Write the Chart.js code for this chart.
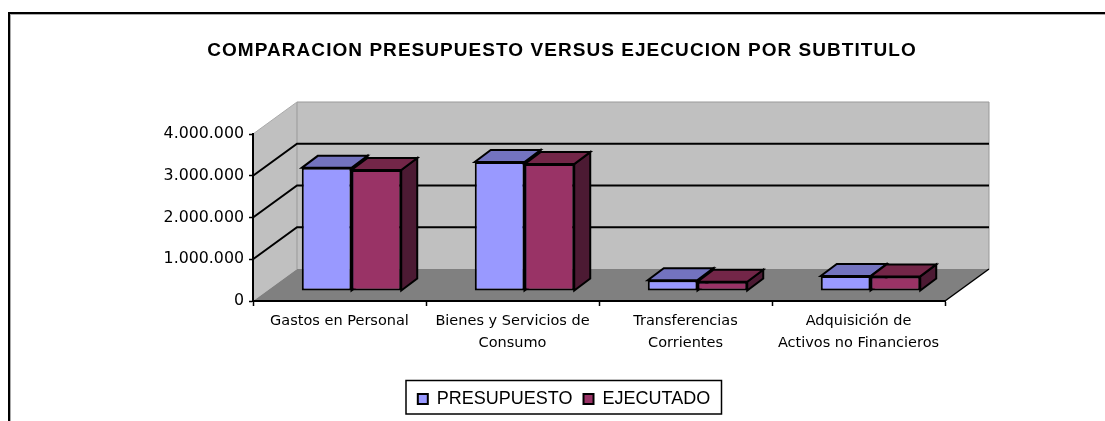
<!DOCTYPE html>
<html>
<head>
<meta charset="utf-8">
<script src="https://cdn.jsdelivr.net/npm/chart.js@4/dist/chart.umd.min.js"></script>
<style>
html,body{margin:0;padding:0;background:#fff;overflow:hidden}
#wrap{position:relative;width:1105px;height:421px}
#frame{position:absolute;left:8px;top:12px;width:1200px;height:500px;border-top:2px solid #000;border-left:2px solid #000;box-shadow:inset 1px 1px 0 #aaa}
canvas{position:absolute;left:0;top:0}
</style>
</head>
<body>
<div id="wrap"><div id="frame"></div><canvas id="c" width="1105" height="421"></canvas></div>
<script>
const categories = [['Gastos en Personal'],['Bienes y Servicios de','Consumo'],['Transferencias','Corrientes'],['Adquisición de','Activos no Financieros']]
const presupuesto = [2950000,3090000,260000,360000]
const ejecutado = [2900000,3040000,220000,350000]
const tickValues = [1000000,2000000,3000000]

// how far the back wall and the bars sit behind the front plane
const wall = {dx:44,dy:-32}
const barShift = {dx:12,dy:-10}
const barDepth = {dx:16,dy:-12}
const topColors = ['#7373bf','#732648']
const sideColors = ['#4d4d80','#4c1a33']

function poly(ctx,pts,fill,stroke,lw){
  ctx.beginPath()
  pts.forEach((p,i)=>i?ctx.lineTo(p[0],p[1]):ctx.moveTo(p[0],p[1]))
  ctx.closePath()
  if(fill){ctx.fillStyle=fill;ctx.fill()}
  if(stroke){ctx.strokeStyle=stroke;ctx.lineWidth=lw||1;ctx.stroke()}
}

const box3d = {
  id:'box3d',
  afterLayout(chart){
    // title and legend are centred on the picture, not on the plot
    const t=chart.titleBlock;t.left=0;t.right=1124
    if(!t._spaced){
      const draw=t.draw
      t.draw=function(){this.ctx.letterSpacing='1.05px';draw.apply(this,arguments);this.ctx.letterSpacing='0px'}
      t._spaced=true
    }
    const l=chart.legend;l.left=0;l.right=1128;const h=l.bottom-l.top;l.top=379;l.bottom=379+h
  },
  beforeDatasetsDraw(chart){
    const ctx=chart.ctx,a=chart.chartArea,y=chart.scales.y
    const L=a.left,R=a.right,T=y.getPixelForValue(4000000),B=y.getPixelForValue(0)
    const d=wall
    ctx.save()
    poly(ctx,[[L+d.dx,T+d.dy],[R+d.dx,T+d.dy],[R+d.dx,B+d.dy],[L+d.dx,B+d.dy]],'#c0c0c0')
    poly(ctx,[[L,B],[L+d.dx,B+d.dy],[L+d.dx,T+d.dy],[L,T]],'#c0c0c0')
    poly(ctx,[[L,B],[R,B],[R+d.dx,B+d.dy],[L+d.dx,B+d.dy]],'#808080')
    ctx.strokeStyle='#999';ctx.lineWidth=1
    ctx.beginPath();ctx.moveTo(L+d.dx,B+d.dy);ctx.lineTo(L+d.dx,T+d.dy);ctx.lineTo(R+d.dx,T+d.dy);ctx.lineTo(R+d.dx,B+d.dy);ctx.stroke()
    ctx.strokeStyle='#aaa'
    ctx.beginPath();ctx.moveTo(L,T);ctx.lineTo(L+d.dx,T+d.dy);ctx.stroke()
    ctx.strokeStyle='#000';ctx.lineWidth=2
    tickValues.forEach(v=>{
      const p=y.getPixelForValue(v)
      ctx.beginPath();ctx.moveTo(L,p);ctx.lineTo(L+d.dx,p+d.dy);ctx.lineTo(R+d.dx,p+d.dy);ctx.stroke()
    })
    ctx.lineWidth=1.5
    ctx.beginPath();ctx.moveTo(R,B);ctx.lineTo(R+d.dx,B+d.dy);ctx.stroke()
    // tops and sides of the bars, the fronts come from the library
    chart.data.datasets.forEach((ds,di)=>{
      chart.getDatasetMeta(di).data.forEach(bar=>{
        const p=bar.getProps(['x','y','base','width'],true)
        const x0=p.x-p.width/2+barShift.dx,x1=p.x+p.width/2+barShift.dx,ty=p.y+barShift.dy,by=p.base+barShift.dy
        const q=barDepth
        poly(ctx,[[x1,ty],[x1+q.dx,ty+q.dy],[x1+q.dx,by+q.dy],[x1,by]],sideColors[di],'#000',2)
        poly(ctx,[[x0,ty],[x1,ty],[x1+q.dx,ty+q.dy],[x0+q.dx,ty+q.dy]],topColors[di],'#000',2)
      })
    })
    ctx.restore()
    ctx.save()
    ctx.translate(barShift.dx,barShift.dy)
  },
  afterDatasetsDraw(chart){chart.ctx.restore()},
  afterDraw(chart){
    const ctx=chart.ctx
    ctx.save();ctx.strokeStyle='#000';ctx.lineWidth=1.5
    ctx.strokeRect(406,380.5,315.5,33.5)
    ctx.restore()
  }
}

new Chart(document.getElementById('c'),{
  type:'bar',
  data:{labels:categories,datasets:[
    {label:'PRESUPUESTO',data:presupuesto,backgroundColor:'#9999ff',borderColor:'#000',borderWidth:2,borderSkipped:false,clip:false},
    {label:'EJECUTADO',data:ejecutado,backgroundColor:'#993366',borderColor:'#000',borderWidth:2,borderSkipped:false,clip:false}
  ]},
  plugins:[box3d],
  options:{
    responsive:false,animation:false,
    layout:{padding:{left:0,right:160,top:0,bottom:0}},
    datasets:{bar:{categoryPercentage:0.575,barPercentage:1}},
    plugins:{
      tooltip:{enabled:false},
      title:{display:true,text:'COMPARACION PRESUPUESTO VERSUS EJECUCION POR SUBTITULO',color:'#000',
        font:{family:'"Liberation Sans"',size:19,weight:'bold',lineHeight:1.2},padding:{top:39,bottom:72.2}},
      legend:{display:true,position:'bottom',
        labels:{color:'#000',font:{family:'"Liberation Sans"',size:18},boxWidth:10,boxHeight:10,padding:11}}
    },
    scales:{
      x:{
        afterFit(s){s.height=120-s.chart.legend.height},
        grid:{display:true,drawOnChartArea:false,offset:true,tickLength:5,tickColor:'#000',tickWidth:1.5,z:1},
        border:{display:true,color:'#000',width:2,z:1},
        ticks:{color:'#000',font:{family:'"DejaVu Sans"',size:14.5,lineHeight:1.517},padding:4,maxRotation:0,autoSkip:false}
      },
      y:{
        min:0,max:4000000,
        afterFit(s){s.width=253},
        grid:{display:true,drawOnChartArea:false,tickLength:4,tickColor:'#000',tickWidth:1.5,z:1},
        border:{display:true,color:'#000',width:2,z:1},
        ticks:{stepSize:1000000,color:'#000',font:{family:'"DejaVu Sans"',size:15.8},padding:5,
          callback:v=>String(v).replace(/\B(?=(\d{3})+$)/g,'.')}
      }
    }
  }
})
</script>
</body>
</html>
